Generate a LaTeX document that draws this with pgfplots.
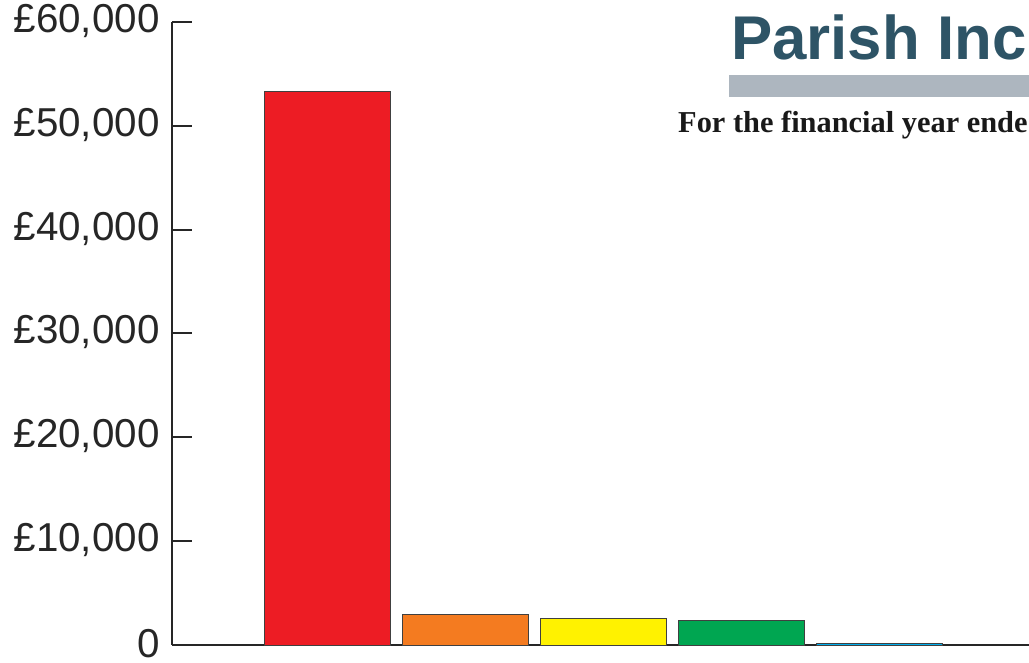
\documentclass[border=0pt]{standalone}
\usepackage{pgfplots}
\pgfplotsset{compat=1.18}
\usepackage{fontspec}
\setmainfont{Liberation Sans}
\newfontfamily\subfont{Liberation Serif}
\definecolor{titleblue}{HTML}{2E5466}
\definecolor{rulegray}{HTML}{ADB6BF}
\definecolor{bred}{HTML}{ED1C24}
\definecolor{borange}{HTML}{F47B20}
\definecolor{byellow}{HTML}{FFF200}
\definecolor{bgreen}{HTML}{00A651}
\definecolor{bblue}{HTML}{00AEEF}
\begin{document}
\begin{tikzpicture}[x=1bp,y=1bp]
\useasboundingbox (0,0) rectangle (1029,663);
\begin{axis}[
  at={(172bp,18bp)}, anchor=south west,
  scale only axis, width=857bp, height=623bp,
  xmin=-1.123, xmax=5.087, ymin=0, ymax=60000,
  axis lines*=left,
  axis line style={line width=2bp, color=black!85},
  xtick=\empty,
  scaled y ticks=false,
  ytick={0,10000,20000,30000,40000,50000,60000},
  yticklabels={0,{£10,000},{£20,000},{£30,000},{£40,000},{£50,000},{£60,000}},
  tick align=inside,
  major tick length=20bp,
  tick style={line width=2bp, color=black!85},
  yticklabel style={font=\fontsize{40.5}{40.5}\selectfont, text=black!85, xshift=-9bp, yshift=1bp},
  clip=false,
]
\addplot[ybar, bar width=126bp, fill=bred, draw=black!75, line width=0.8bp] coordinates {(0,53350)};
\addplot[ybar, bar width=126bp, fill=borange, draw=black!75, line width=0.8bp] coordinates {(1,2950)};
\addplot[ybar, bar width=126bp, fill=byellow, draw=black!75, line width=0.8bp] coordinates {(2,2530)};
\addplot[ybar, bar width=126bp, fill=bgreen, draw=black!75, line width=0.8bp] coordinates {(3,2400)};
\addplot[ybar, bar width=126bp, fill=bblue, draw=black!75, line width=0.8bp] coordinates {(4,170)};
\end{axis}
\fill[rulegray] (729,566) rectangle (1029,588);
\node[anchor=base west, inner sep=0pt, text=titleblue, font=\fontsize{62}{62}\selectfont\bfseries] at (731,603) {Parish Inc};
\node[anchor=base west, inner sep=0pt, text=black!90, font=\fontsize{30.5}{30.5}\selectfont\subfont\bfseries] at (678,530) {For the financial year ende};
\end{tikzpicture}
\end{document}
